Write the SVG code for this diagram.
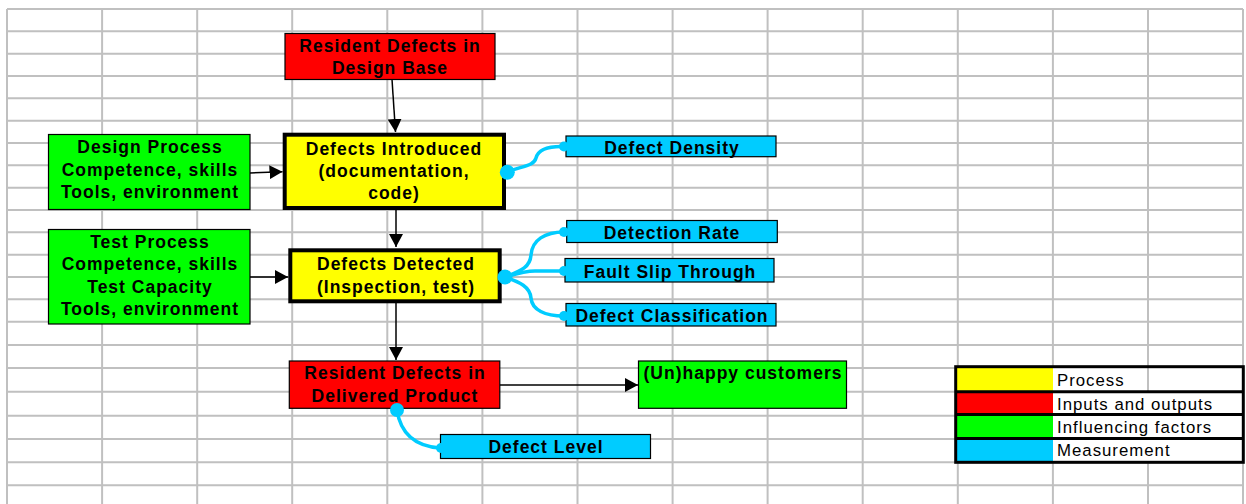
<svg xmlns="http://www.w3.org/2000/svg" width="1246" height="504" viewBox="0 0 1246 504">
<style>
.grid{stroke:#C0C0C0;stroke-width:2;fill:none}
.t{font-family:"Liberation Sans",Arial,sans-serif;font-weight:bold;font-size:17.5px;letter-spacing:1px;fill:#000;text-anchor:middle}
.lg{font-family:"Liberation Sans",Arial,sans-serif;font-size:16.8px;letter-spacing:1px;fill:#000}
.red{fill:#FF0000;stroke:#000;stroke-width:1.2}
.grn{fill:#00FF00;stroke:#000;stroke-width:1.2}
.yel{fill:#FFFF00;stroke:#000;stroke-width:4}
.cy{fill:#00CCFF;stroke:#000;stroke-width:1.2}
.arr{stroke:#000;stroke-width:1.5;fill:none;marker-end:url(#ah)}
.cl{stroke:#00CCFF;stroke-width:3.5;fill:none;stroke-linecap:round}
.dot{fill:#00CCFF}
</style>
<defs>
<marker id="ah" markerUnits="userSpaceOnUse" markerWidth="14" markerHeight="14" refX="13" refY="7" orient="auto">
<path d="M0,0 L13,7 L0,14 z" fill="#000"/>
</marker>
</defs>
<rect width="1246" height="504" fill="#FFFFFF"/>
<g id="grid" class="grid">
<path d="M7,9H1243M7,31.3H1243M7,53.7H1243M7,76H1243M7,98.3H1243M7,120.7H1243M7,143H1243M7,165.3H1243M7,187.7H1243M7,210H1243M7,232.3H1243M7,254.7H1243M7,277H1243M7,299.3H1243M7,321.7H1243M7,345H1243M7,368H1243M7,391.7H1243M7,415.7H1243M7,439H1243M7,462.3H1243M7,485.3H1243"/>
<path d="M7,9V504M102.1,9V504M197.2,9V504M292.2,9V504M387.3,9V504M482.4,9V504M577.5,9V504M672.6,9V504M767.6,9V504M862.7,9V504M957.8,9V504M1052.9,9V504M1148,9V504M1243,9V504"/>
</g>
<g id="n-design-base">
<rect class="red" x="285" y="33.5" width="210" height="46"/>
<text class="t" x="390" y="52">Resident Defects in</text>
<text class="t" x="390" y="73.5">Design Base</text>
</g>
<g id="n-design-process">
<rect class="grn" x="48.5" y="134.5" width="201.5" height="75"/>
<text class="t" x="150" y="153">Design Process</text>
<text class="t" x="150" y="175.5">Competence, skills</text>
<text class="t" x="150" y="197.5">Tools, environment</text>
</g>
<g id="n-introduced">
<rect class="yel" x="284.7" y="134.7" width="219.3" height="73.3"/>
<text class="t" x="394" y="154.5">Defects Introduced</text>
<text class="t" x="394" y="177">(documentation,</text>
<text class="t" x="394" y="199">code)</text>
</g>
<g id="n-test-process">
<rect class="grn" x="48.5" y="229.5" width="201.5" height="94.5"/>
<text class="t" x="150" y="247.5">Test Process</text>
<text class="t" x="150" y="270">Competence, skills</text>
<text class="t" x="150" y="292.5">Test Capacity</text>
<text class="t" x="150" y="314.5">Tools, environment</text>
</g>
<g id="n-detected">
<rect class="yel" x="290.3" y="250.3" width="209.4" height="51"/>
<text class="t" x="396" y="270">Defects Detected</text>
<text class="t" x="396" y="292.5">(Inspection, test)</text>
</g>
<g id="n-delivered">
<rect class="red" x="289.3" y="361" width="210.5" height="47.3"/>
<text class="t" x="395" y="379.3">Resident Defects in</text>
<text class="t" x="395" y="402">Delivered Product</text>
</g>
<g id="n-customers">
<rect class="grn" x="638.5" y="361" width="208" height="47.3"/>
<text class="t" x="743" y="379">(Un)happy customers</text>
</g>
<g id="n-defect-density">
<rect class="cy" x="566" y="136" width="210" height="20.7"/>
<text class="t" x="672" y="154">Defect Density</text>
</g>
<g id="n-detection-rate">
<rect class="cy" x="566.7" y="220.5" width="210.6" height="22"/>
<text class="t" x="672" y="239">Detection Rate</text>
</g>
<g id="n-fault-slip">
<rect class="cy" x="565" y="258.5" width="209" height="23.5"/>
<text class="t" x="670" y="277.5">Fault Slip Through</text>
</g>
<g id="n-defect-class">
<rect class="cy" x="566" y="303.5" width="210" height="22.5"/>
<text class="t" x="672" y="322">Defect Classification</text>
</g>
<g id="n-defect-level">
<rect class="cy" x="440.5" y="434.5" width="210" height="24"/>
<text class="t" x="546" y="453">Defect Level</text>
</g>
<g id="legend">
<rect x="1053" y="368" width="190" height="94" fill="#FFFFFF"/>
<path d="M1148,368V391" class="grid"/>
<rect x="957" y="368" width="96" height="23.5" fill="#FFFF00"/>
<rect x="957" y="391.5" width="96" height="23" fill="#FF0000"/>
<rect x="957" y="414.5" width="96" height="24" fill="#00FF00"/>
<rect x="957" y="438.5" width="96" height="23.5" fill="#00CCFF"/>
<path d="M955.7,391.7H1243.3M955.7,414.5H1243.3M955.7,438.5H1243.3" stroke="#000" stroke-width="3"/>
<rect x="955.7" y="366.7" width="287.6" height="95.6" fill="none" stroke="#000" stroke-width="3"/>
<text class="lg" x="1057" y="385.7">Process</text>
<text class="lg" x="1057" y="409.5">Inputs and outputs</text>
<text class="lg" x="1057" y="432.7">Influencing factors</text>
<text class="lg" x="1057" y="456">Measurement</text>
</g>
<g id="connectors">
<path class="arr" d="M392,79.5 L395.5,132"/>
<path class="arr" d="M250,173 L282.5,171.7"/>
<path class="arr" d="M396,210 L396,247"/>
<path class="arr" d="M250,277 L288,277"/>
<path class="arr" d="M396,303 L396,360"/>
<path class="arr" d="M500,385 L638,385"/>
<path class="cl" d="M507,172 C522,166 534,166 536,158 C538,150 548,146 564,146.5"/>
<circle class="dot" cx="507.3" cy="172.3" r="7.5"/>
<circle class="dot" cx="564" cy="146.5" r="5"/>
<path class="cl" d="M505,277 C520,271 530,268 531,255 C532,240 545,232 564,232"/>
<path class="cl" d="M505,277 C515,274 525,271 535,271 L564,271"/>
<path class="cl" d="M505,277 C520,282 530,287 531,298 C532,310 545,316 564,316"/>
<circle class="dot" cx="505" cy="277" r="7.5"/>
<circle class="dot" cx="564" cy="232" r="5"/>
<circle class="dot" cx="564" cy="271" r="5"/>
<circle class="dot" cx="564" cy="316" r="5"/>
<path class="cl" d="M397,410 C400,430 412,446 440,448"/>
<circle class="dot" cx="397" cy="410" r="7"/>
<circle class="dot" cx="441" cy="448" r="5"/>
</g>
</svg>
